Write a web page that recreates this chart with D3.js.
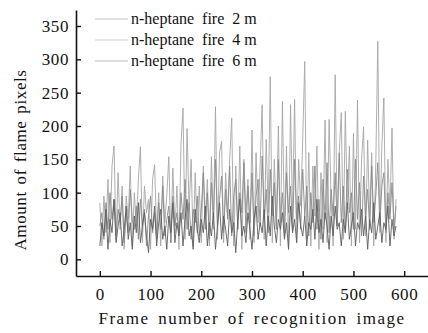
<!DOCTYPE html>
<html>
<head>
<meta charset="utf-8">
<script src="https://cdn.jsdelivr.net/npm/d3@7"></script>
<style>
  body { margin: 0; background: #fff; }
  svg text { font-family: "Liberation Serif", "Times New Roman", serif; fill: #111; }
</style>
</head>
<body>
<div class="canva"></div>
<script>
// frames sampled every 4 frames (0..584)
const frameStep = 4;
const labels = ["n-heptane  fire  2 m", "n-heptane  fire  4 m", "n-heptane  fire  6 m"];
const colors = ["#a6a6a6", "#8a8a8a", "#5e5e5e"];
const legendColors = ["#c0c0c0", "#d0d0d0", "#bcbcbc"];
const xTicks = [0, 100, 200, 300, 400, 500, 600];
const yTicks = [0, 50, 100, 150, 200, 250, 300, 350];

const fire2m = [
  85, 20, 95, 40, 120, 25, 140, 170, 30, 130,
  45, 110, 15, 95, 60, 140, 20, 100, 50, 120,
  169, 25, 110, 70, 90, 15, 120, 142, 35, 100,
  20, 125, 55, 95, 154, 25, 137, 40, 110, 15,
  172, 227, 30, 196, 75, 150, 20, 130, 40, 110,
  25, 140, 60, 120, 20, 154, 45, 229, 30, 160,
  177, 25, 130, 65, 150, 212, 20, 140, 45, 170,
  15, 150, 70, 120, 30, 194, 25, 160, 55, 140,
  232, 30, 180, 70, 274, 25, 150, 50, 200, 20,
  237, 40, 170, 15, 232, 60, 240, 25, 150, 80,
  180, 297, 30, 160, 20, 140, 65, 170, 15, 130,
  45, 209, 25, 210, 90, 20, 277, 50, 160, 220,
  30, 222, 75, 170, 20, 189, 45, 239, 25, 150,
  199, 35, 179, 60, 160, 20, 140, 327, 40, 170,
  242, 25, 150, 70, 197, 30, 90
];
const fire4m = [
  50, 70, 30, 85, 45, 100, 60, 90, 35, 75,
  55, 95, 25, 70, 40, 105, 60, 45, 80, 30,
  90, 50, 75, 20, 65, 95, 40, 70, 30, 85,
  45, 110, 35, 60, 80, 25, 95, 50, 70, 40,
  100, 60, 120, 45, 85, 30, 75, 55, 95, 35,
  75, 130, 45, 100, 30, 115, 60, 150, 50, 90,
  125, 40, 105, 60, 140, 35, 95, 120, 45, 100,
  70, 145, 40, 110, 55, 130, 35, 95, 120, 50,
  155, 60, 105, 40, 135, 65, 115, 45, 150, 55,
  100, 35, 130, 70, 110, 40, 150, 60, 95, 45,
  135, 65, 110, 35, 100, 55, 140, 45, 90, 30,
  120, 60, 145, 40, 105, 65, 130, 50, 160, 55,
  110, 40, 135, 70, 100, 45, 150, 60, 115, 35,
  125, 65, 105, 45, 140, 55, 95, 145, 50, 110,
  130, 40, 100, 60, 115, 45, 80
];
const fire6m = [
  20, 55, 35, 75, 15, 60, 40, 90, 25, 50,
  70, 20, 45, 80, 30, 55, 15, 65, 40, 85,
  25, 50, 70, 35, 10, 60, 45, 80, 20, 55,
  75, 30, 50, 15, 65, 40, 85, 25, 55, 35,
  70, 20, 60, 90, 35, 50, 15, 75, 45, 25,
  60, 40, 80, 20, 55, 35, 70, 15, 50, 85,
  30, 65, 45, 20, 75, 40, 55, 10, 60, 90,
  35, 50, 25, 70, 45, 15, 60, 80, 30, 55,
  40, 75, 20, 65, 35, 95, 50, 25, 60, 45,
  70, 30, 55, 15, 80, 40, 60, 25, 85, 50,
  35, 65, 20, 55, 45, 75, 30, 90, 40, 60,
  25, 70, 50, 15, 65, 35, 80, 45, 55, 20,
  60, 40, 85, 30, 50, 70, 20, 55, 45, 75,
  35, 65, 15, 60, 40, 85, 30, 50, 70, 25,
  55, 45, 80, 20, 60, 35, 50
];
const series = [fire2m, fire4m, fire6m];

const svg = d3.select(".canva").append("svg")
  .attr("width", 428)
  .attr("height", 333);

const x = d3.scaleLinear().domain([-47, 647]).range([76, 428]);
const y = d3.scaleLinear().domain([-25, 374]).range([276, 10]);

const line = d3.line()
  .x((d, i) => x(i * frameStep))
  .y(d => y(d));

series.forEach((s, k) => {
  svg.append("path")
    .datum(s)
    .attr("fill", "none")
    .attr("stroke", colors[k])
    .attr("stroke-width", 0.9)
    .attr("d", line);
});

// axes with ticks pointing inside
const xAxis = svg.append("g")
  .attr("transform", "translate(0,276)")
  .call(d3.axisBottom(x).tickValues(xTicks).tickSizeInner(-5).tickSizeOuter(0).tickPadding(12));
const yAxis = svg.append("g")
  .attr("transform", "translate(76,0)")
  .call(d3.axisLeft(y).tickValues(yTicks).tickSizeInner(-5).tickSizeOuter(0).tickPadding(7));

[xAxis, yAxis].forEach(g => {
  g.attr("font-family", "Liberation Serif").attr("font-size", 17);
  g.select(".domain").attr("stroke", "#111").attr("stroke-width", 1.6);
  g.selectAll(".tick line").attr("stroke", "#111").attr("stroke-width", 1.4);
  g.selectAll(".tick text")
    .style("letter-spacing", "0.6px")
    .attr("fill", "#111");
});
xAxis.selectAll(".tick text").attr("dy", "0.71em");

// axis titles
svg.append("text")
  .attr("x", 252)
  .attr("y", 324)
  .attr("text-anchor", "middle")
  .style("font-size", "17px")
  .style("letter-spacing", "1.5px")
  .style("word-spacing", "3px")
  .text("Frame number of recognition image");

svg.append("text")
  .attr("transform", "translate(26,160) rotate(-90)")
  .attr("text-anchor", "middle")
  .style("font-size", "17px")
  .style("letter-spacing", "0.6px")
  .style("word-spacing", "2px")
  .text("Amount of flame pixels");

// legend
labels.forEach((l, k) => {
  const ly = 19 + k * 21;
  svg.append("line")
    .attr("x1", 95).attr("x2", 128)
    .attr("y1", ly).attr("y2", ly)
    .attr("stroke", legendColors[k])
    .attr("stroke-width", 1);
  svg.append("text")
    .attr("x", 131)
    .attr("y", ly)
    .attr("dy", "0.32em")
    .style("font-size", "16px")
    .style("white-space", "pre")
    .text(l);
});
</script>
</body>
</html>
